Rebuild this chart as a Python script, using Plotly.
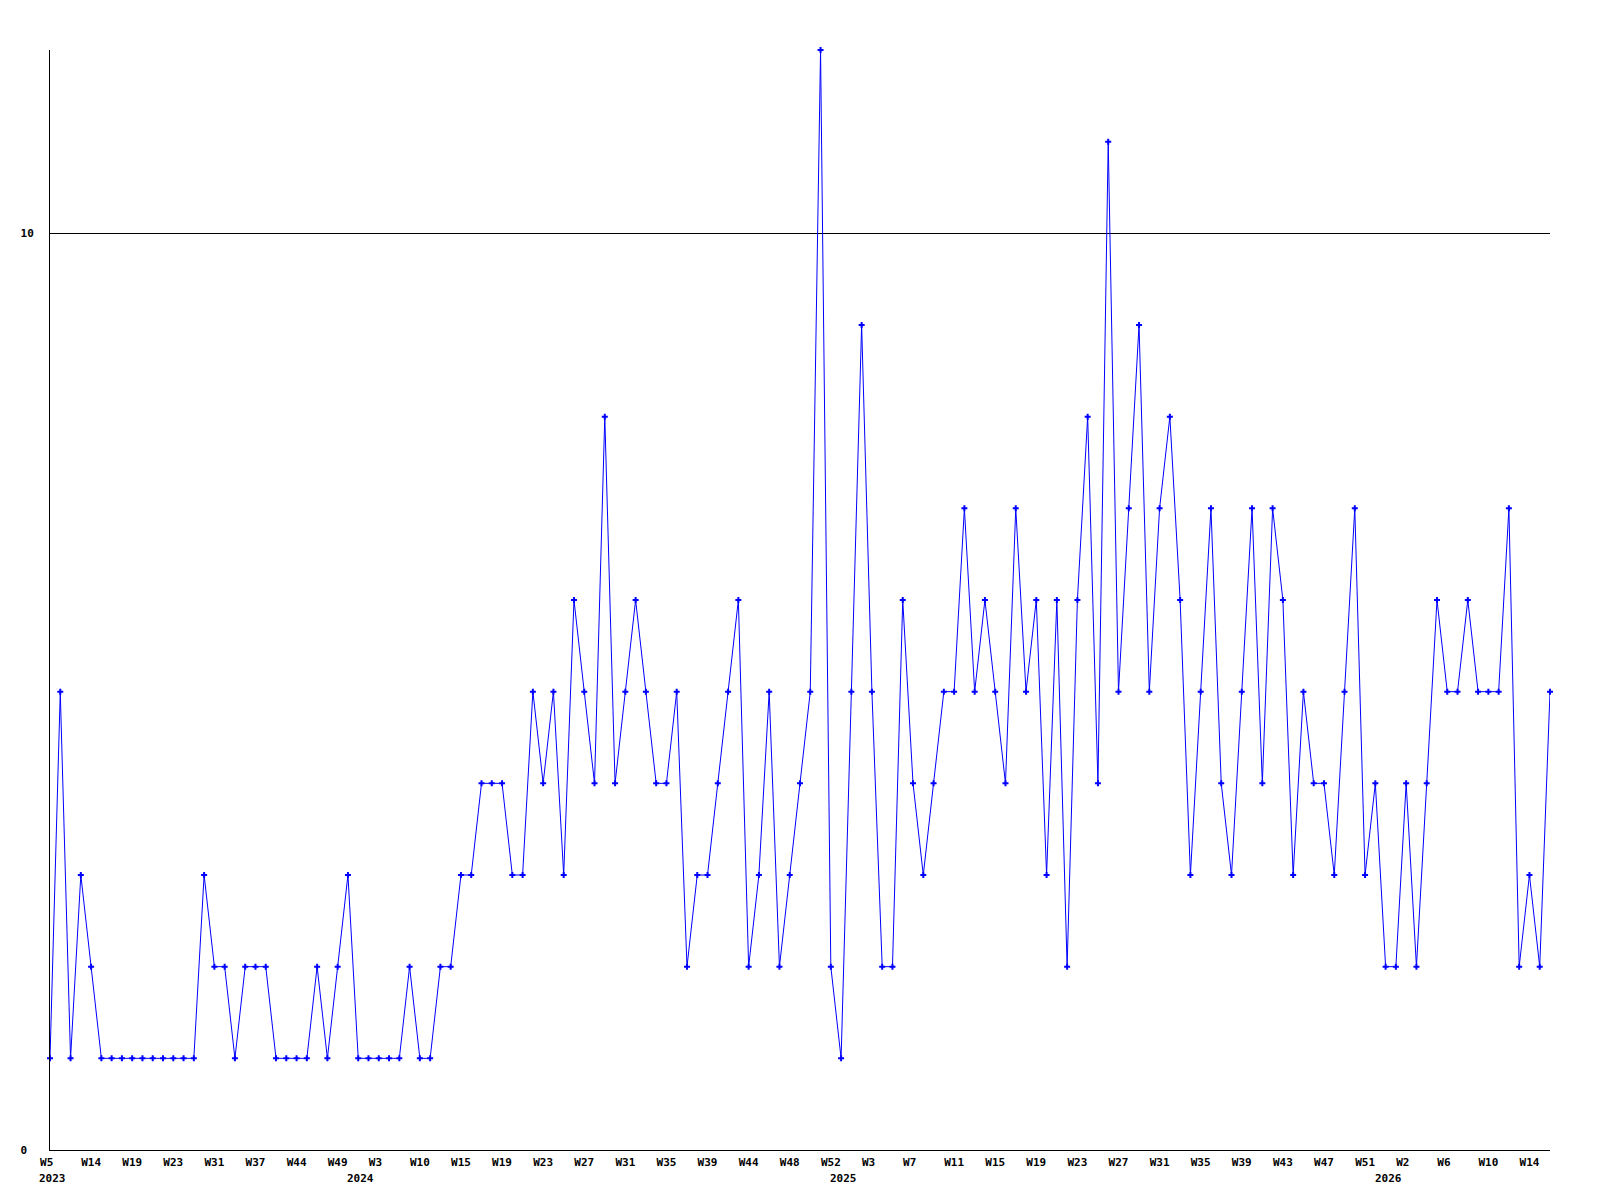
import plotly.graph_objects as go

# weekly counts, one per point (weeks without data are skipped)
counts = [
    1, 5, 1, 3, 2, 1, 1, 1, 1, 1, 1, 1, 1, 1, 1, 3, 2, 2, 1, 2,
    2, 2, 1, 1, 1, 1, 2, 1, 2, 3, 1, 1, 1, 1, 1, 2, 1, 1, 2, 2,
    3, 3, 4, 4, 4, 3, 3, 5, 4, 5, 3, 6, 5, 4, 8, 4, 5, 6, 5, 4,
    4, 5, 2, 3, 3, 4, 5, 6, 2, 3, 5, 2, 3, 4, 5, 12, 2, 1, 5, 9,
    5, 2, 2, 6, 4, 3, 4, 5, 5, 7, 5, 6, 5, 4, 7, 5, 6, 3, 6, 2,
    6, 8, 4, 11, 5, 7, 9, 5, 7, 8, 6, 3, 5, 7, 4, 3, 5, 7, 4, 7,
    6, 3, 5, 4, 4, 3, 5, 7, 3, 4, 2, 2, 4, 2, 4, 6, 5, 5, 6, 5,
    5, 5, 7, 2, 3, 2, 5,
]

# a week label on every 4th point
week_labels = [
    "W5", "W14", "W19", "W23", "W31", "W37", "W44", "W49", "W3", "W10",
    "W15", "W19", "W23", "W27", "W31", "W35", "W39", "W44", "W48", "W52",
    "W3", "W7", "W11", "W15", "W19", "W23", "W27", "W31", "W35", "W39",
    "W43", "W47", "W51", "W2", "W6", "W10", "W14",
]
label_step = 4

years = ["2023", "2024", "2025", "2026"]
year_points = [0, 30, 77, 130]

blue = "#0000ff"
font = dict(family="DejaVu Sans Mono", size=11, color="black", weight="bold")

x = list(range(len(counts)))

fig = go.Figure()
fig.add_trace(go.Scatter(
    x=x,
    y=counts,
    mode="lines+markers",
    line=dict(color=blue, width=1),
    marker=dict(symbol="cross", size=5, color=blue),
    cliponaxis=False,
    showlegend=False,
))

# years sit under the first week of each year, left aligned like the week labels
for yr, p in zip(years, year_points):
    fig.add_annotation(
        x=p, y=0, xref="x", yref="paper",
        text=yr, showarrow=False,
        xanchor="left", yanchor="top",
        xshift=-13, yshift=-20,
        font=font,
    )

# page body adds 8px, so margins are offset to keep the plot box at 50..1550 / 50..1150
fig.update_layout(
    width=1600,
    height=1200,
    margin=dict(l=42, r=58, t=42, b=58),
    paper_bgcolor="white",
    plot_bgcolor="white",
    xaxis=dict(
        range=[0, len(counts) - 1],
        tickvals=[i * label_step for i in range(len(week_labels))],
        ticktext=[w.ljust(3, "\u00a0") for w in week_labels],
        showgrid=False,
        zeroline=False,
        showline=True,
        linecolor="black",
        linewidth=1,
        ticks="outside",
        ticklen=2,
        tickcolor="rgba(0,0,0,0)",
        tickfont=font,
    ),
    yaxis=dict(
        range=[0, 12],
        tickvals=[0, 10],
        ticktext=["0\u00a0", "10"],
        showgrid=True,
        gridcolor="black",
        gridwidth=1,
        zeroline=False,
        showline=True,
        linecolor="black",
        linewidth=1,
        ticks="outside",
        ticklen=13,
        tickcolor="rgba(0,0,0,0)",
        tickfont=font,
    ),
)

fig.write_html("out.html")
